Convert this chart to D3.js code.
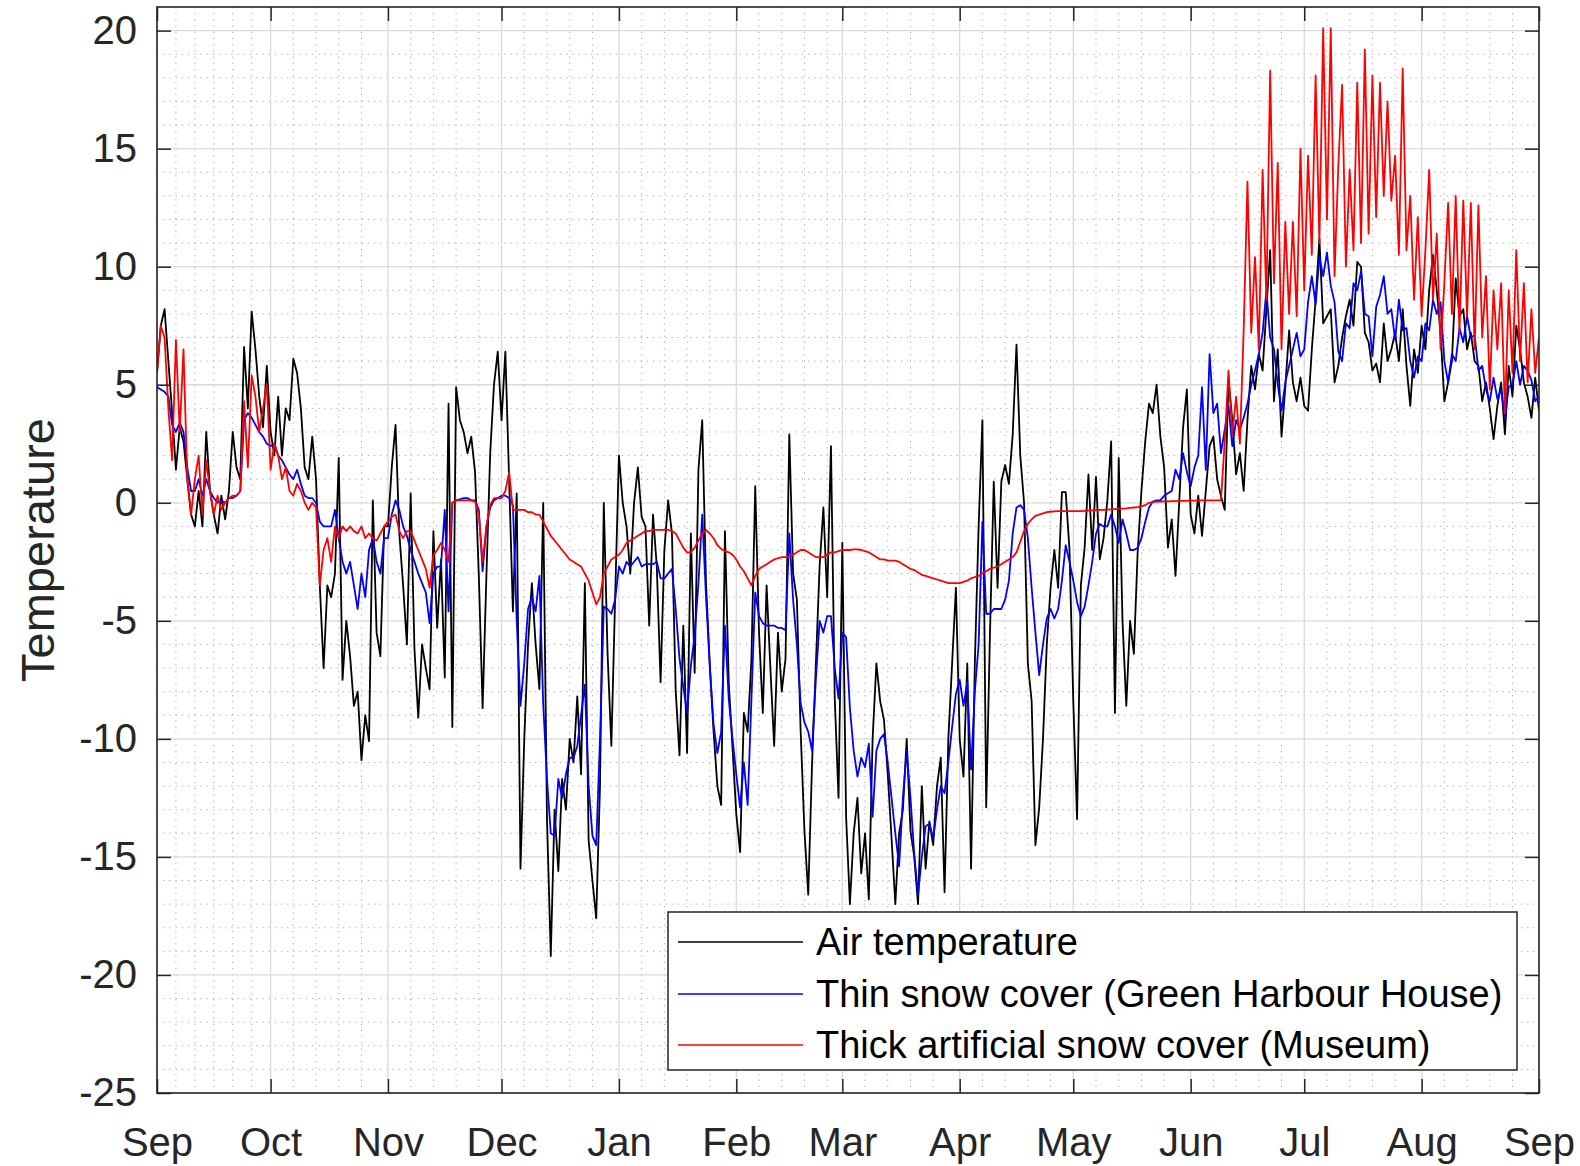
<!DOCTYPE html>
<html>
<head>
<meta charset="utf-8">
<script src="https://cdn.jsdelivr.net/npm/d3@7"></script>
<style>
  html, body { margin: 0; padding: 0; background: #ffffff; }
  svg { display: block; font-family: "Liberation Sans", Arial, Helvetica, sans-serif; }
</style>
</head>
<body>
<svg id="chart" width="1580" height="1166"></svg>
<script>
// Daily temperature series, one value per day starting 1 Sep 2016 (366 values, up to 1 Sep 2017)
const firstDay = [2016, 8, 1];
const xTickLabels = ["Sep", "Oct", "Nov", "Dec", "Jan", "Feb", "Mar", "Apr", "May", "Jun", "Jul", "Aug", "Sep"];
const yTicks = [-25, -20, -15, -10, -5, 0, 5, 10, 15, 20];
const yTickLabels = ["-25", "-20", "-15", "-10", "-5", "0", "5", "10", "15", "20"];
const yMin = -25, yMax = 21;
const yAxisTitle = "Temperature";
const seriesNames = [
  "Air temperature",
  "Thin snow cover (Green Harbour House)",
  "Thick artificial snow cover (Museum)"
];

const airTemperature = [
  5.5, 7.5, 8.2, 6.0, 3.8, 1.4, 3.2, 2.6, 1.0, -0.5,
  -1.0, 0.5, -1.0, 3.0, 0.5, -0.5, -1.3, 0.3, -0.7, 0.5,
  3.0, 1.5, 1.0, 6.6, 4.0, 8.1, 6.5, 4.5, 3.2, 5.8,
  3.0, 2.0, 4.5, 2.0, 4.0, 3.5, 6.1, 5.5, 4.0, 1.5,
  1.0, 2.8, 1.0, -3.5, -7.0, -3.5, -4.0, -3.0, 1.9, -7.5,
  -5.0, -6.5, -8.6, -8.0, -10.9, -9.0, -10.1, 0.1, -5.5, -6.5,
  -1.0, -1.0, 1.5, 3.3, -1.3, -3.5, -6.0, 0.4, -6.2, -9.1,
  -6.0, -7.0, -7.9, -1.2, -5.3, -2.4, -7.4, 4.2, -9.5, 4.9,
  3.5, 3.0, 2.1, 2.8, 1.3, -3.1, -8.7, -3.1, 2.1, 5.0,
  6.4, 3.5, 6.4, 1.0, -4.6, 0.4, -15.5, -10.0, -6.0, -3.4,
  -6.0, -7.9, 0.0, -13.4, -19.2, -13.0, -15.6, -11.7, -13.0, -10.0,
  -11.0, -8.2, -11.5, -3.4, -14.3, -16.0, -17.6, -12.0, 0.0, -6.4,
  -10.3, -4.0, 2.0, 0.0, -1.0, -3.0, 0.0, 1.5, -0.6, -1.0,
  -5.2, -0.5, -2.7, -7.6, -2.0, 0.1, -1.3, -8.0, -10.7, -5.2,
  -10.6, -1.3, -7.2, 1.4, 3.5, -3.4, -6.9, -9.7, -12.0, -12.8,
  -1.2, -7.6, -10.4, -13.2, -14.8, -8.9, -9.7, -6.6, 0.7, -5.5,
  -8.9, -3.5, -7.0, -10.3, -5.5, -8.0, -6.6, 2.9, -3.0, -4.1,
  -9.7, -13.9, -16.6, -11.1, -6.9, -2.7, -0.2, -4.0, 2.4, -8.3,
  -12.5, -1.7, -13.3, -17.0, -14.0, -12.5, -15.7, -14.0, -16.8, -10.0,
  -6.8, -8.4, -9.2, -11.5, -14.2, -17.0, -14.0, -13.0, -10.0, -13.9,
  -15.0, -17.0, -12.0, -15.5, -13.5, -14.5, -12.0, -10.8, -16.5, -10.0,
  -6.8, -3.6, -10.0, -11.6, -6.8, -15.5, -6.8, -1.0, 3.5, -12.9,
  -5.5, 0.9, -3.6, 0.9, 1.6, 0.8, 2.9, 6.7, 2.0, 0.0,
  -6.8, -8.4, -14.5, -12.9, -10.0, -6.0, -3.6, -2.0, -3.6, 0.45,
  0.45, -2.0, -8.4, -13.4, -3.5, -1.9, 1.2, -2.0, 1.1, -2.4,
  -1.5, 0.1, 2.6, -8.9, 1.9, -5.0, -8.6, -5.0, -6.4, -2.1,
  0.5, 2.6, 4.2, 3.8, 5.0, 2.8, 1.5, -1.9, -0.7, -3.1,
  0.1, 3.2, 4.8, -0.5, -1.3, 0.3, -1.4, 0.5, 2.4, 2.8,
  1.0, 0.3, -0.3, 5.2, 3.5, 1.2, 2.1, 0.5, 3.5, 5.8,
  4.8, 6.3, 5.6, 8.2, 10.7, 4.3, 6.5, 2.8, 4.9, 7.3,
  5.1, 4.3, 5.3, 4.1, 3.9, 6.5, 8.6, 11.2, 7.6, 7.9,
  8.2, 5.1, 5.8, 7.0, 7.9, 8.6, 7.5, 10.2, 10.0, 7.2,
  6.8, 5.6, 5.9, 5.1, 7.6, 6.0, 6.5, 7.2, 6.0, 8.2,
  5.8, 4.1, 6.5, 5.5, 7.5, 6.5, 9.0, 10.5, 9.0, 7.2,
  4.3, 5.1, 6.0, 9.5, 7.9, 8.2, 6.5, 7.2, 6.0, 5.8,
  4.3, 5.1, 4.0, 2.7, 4.1, 5.1, 2.9, 5.8, 4.5, 7.5,
  6.5, 5.1, 4.5, 3.6, 5.3, 3.9
];

const thinSnowCover = [
  4.9, 4.8, 4.7, 4.5, 3.3, 3.0, 3.4, 3.0, 1.5, 0.5,
  0.5, 1.0, 0.3, 1.0, 0.5, 0.2, 0.0, 0.1, 0.0, 0.2,
  0.2, 0.3, 0.5, 3.5, 3.8, 3.6, 3.3, 3.0, 2.8, 2.5,
  2.4, 2.5, 2.0, 1.8, 1.5, 1.2, 1.0, 1.4, 0.8, 0.3,
  0.2, 0.2, 0.0, -0.8, -1.0, -1.0, -1.0, -0.3, -1.5, -2.5,
  -3.0, -2.5, -3.5, -4.5, -3.0, -4.0, -2.0, -1.5, -2.5, -3.0,
  -1.5, -1.5, -0.5, 0.1, -0.3, -1.0, -1.4, -2.0, -2.5, -3.0,
  -3.4, -3.8, -5.1, -3.0, -2.7, -2.7, -0.3, -4.6, 0.0, 0.1,
  0.15, 0.2, 0.2, 0.1, 0.1, -0.3, -2.9, -1.0, -0.2, 0.1,
  0.2, 0.3, 0.3, 0.2, -0.1, -5.0, -8.6, -6.8, -4.5, -4.0,
  -4.6, -3.1, -8.5, -11.7, -14.0, -14.1, -11.7, -12.5, -11.5, -10.8,
  -10.8, -10.3, -9.0, -7.7, -12.0, -14.1, -14.5, -10.0, -4.4, -4.5,
  -4.7, -4.1, -2.7, -3.0, -2.5, -2.7, -2.5, -2.3, -2.7, -2.6,
  -2.6, -2.6, -2.5, -3.2, -3.2, -3.0, -2.8, -4.5, -6.6, -7.8,
  -8.9, -6.9, -5.6, -3.4, -0.5, -4.0, -6.9, -9.4, -10.6, -9.7,
  -5.2, -8.3, -10.0, -11.5, -12.9, -11.0, -12.8, -8.3, -3.8, -4.8,
  -5.1, -5.2, -5.2, -5.2, -5.3, -5.3, -5.4, -1.3, -4.1, -6.0,
  -8.5, -9.3, -9.7, -10.5, -7.5, -5.0, -5.5, -4.8, -4.8, -7.0,
  -8.3, -5.5, -5.7, -8.7, -10.5, -11.6, -10.8, -11.2, -10.2, -13.3,
  -10.5, -10.0, -9.8, -11.0, -12.5, -14.0, -15.4, -12.5, -10.5, -12.5,
  -14.9, -16.6, -15.0, -13.7, -13.6, -14.2, -13.0, -12.0, -12.3, -11.0,
  -9.5, -8.1, -7.5, -8.6, -7.6, -11.3, -8.0, -6.0, -0.8, -4.7,
  -4.7, -4.5, -4.5, -4.5, -4.1, -3.3, -1.3, -0.2, -0.1, -0.3,
  -1.5, -3.6, -5.5, -7.3, -6.0, -4.9, -4.5, -4.9, -4.5, -3.3,
  -1.8, -2.5, -3.3, -4.2, -4.8, -4.4, -3.5, -2.5, -1.3, -0.9,
  -1.0, -1.0, -0.5, -1.0, -1.7, -0.7, -1.3, -2.0, -2.0, -1.9,
  -1.5, -0.8, -0.2, 0.05, 0.1, 0.1, 0.3, 0.4, 0.5, 1.4,
  1.0, 2.1, 1.3, 0.7, 1.5, 2.0, 4.9, 1.4, 6.3, 3.8,
  4.2, 2.1, 3.1, 4.1, 2.4, 3.5, 3.1, 3.6, 4.2, 5.0,
  5.6, 6.3, 7.2, 9.0, 7.0, 6.5, 5.0, 3.9, 5.1, 5.8,
  6.5, 7.2, 6.2, 6.5, 8.5, 9.6, 8.4, 10.4, 9.6, 10.6,
  9.2, 8.5, 6.4, 6.0, 7.6, 7.4, 9.3, 9.0, 9.8, 8.0,
  7.9, 6.2, 8.3, 8.8, 9.6, 8.0, 8.2, 6.9, 8.6, 7.3,
  7.4, 6.0, 5.3, 6.2, 6.0, 7.6, 7.3, 8.6, 8.0, 8.5,
  6.0, 5.1, 6.3, 6.0, 7.4, 6.8, 7.9, 7.0, 7.1, 5.6,
  5.8, 4.8, 4.3, 5.3, 4.4, 4.8, 3.6, 4.9, 5.0, 6.0,
  5.0, 5.8, 5.6, 5.2, 4.3, 4.5
];

const thickSnowCover = [
  5.5, 7.5, 7.0, 4.0, 1.8, 6.9, 3.0, 6.5, 1.0, -0.5,
  1.0, 2.0, -0.5, 1.8, 0.5, -0.5, 0.3, -0.3, 0.0, 0.2,
  0.3, 0.3, 0.5, 4.3, 1.5, 5.4, 4.5, 3.0, 4.0, 5.0,
  1.4, 2.5, 2.0, 1.0, 1.5, 0.5, 0.3, 0.8, 0.5, 0.0,
  -0.3, 0.0, -0.2, -3.5, -2.0, -1.5, -2.5, -1.0, -1.5, -1.0,
  -1.2, -1.0, -1.2, -1.3, -1.0, -1.5, -1.3, -1.5, -1.6, -1.3,
  -1.0, -0.8, -0.6, -0.5, -1.2, -1.5, -1.2, -1.2, -1.6, -2.0,
  -2.4, -2.8, -3.6, -2.2, -2.0, -1.7, -2.0, -2.5, 0.0, 0.1,
  0.1, 0.1, 0.1, 0.1, 0.05, -0.5, -2.5, -1.0, -0.1, 0.2,
  0.2, 0.2, 0.5, 1.3, -0.3, -0.3, -0.3, -0.3, -0.4, -0.4,
  -0.5, -0.5, -0.8, -1.1, -1.4, -1.6, -1.8, -2.0, -2.2, -2.4,
  -2.5, -2.6, -2.7, -3.0, -3.3, -3.8, -4.3, -4.0, -3.0, -2.7,
  -2.4, -2.3, -2.2, -2.0, -1.7, -1.6, -1.5, -1.4, -1.3, -1.2,
  -1.2, -1.15, -1.15, -1.15, -1.15, -1.15, -1.2, -1.3, -1.6, -1.9,
  -2.1, -2.1, -1.9, -1.6, -1.3, -1.15, -1.3, -1.5, -1.8, -1.95,
  -2.05, -2.1, -2.2, -2.4, -2.7, -2.9, -3.2, -3.5, -3.1, -2.8,
  -2.7, -2.6, -2.5, -2.4, -2.35, -2.3, -2.3, -2.3, -2.2, -2.1,
  -2.0, -2.0, -2.1, -2.2, -2.3, -2.3, -2.3, -2.2, -2.1, -2.1,
  -2.05, -2.0, -2.0, -2.0, -1.97, -1.97, -2.0, -2.05, -2.1, -2.2,
  -2.3, -2.4, -2.4, -2.45, -2.45, -2.45, -2.5, -2.6, -2.7, -2.8,
  -2.85, -2.95, -3.05, -3.1, -3.15, -3.2, -3.25, -3.3, -3.35, -3.4,
  -3.4, -3.4, -3.4, -3.35, -3.3, -3.2, -3.15, -3.1, -3.0, -2.9,
  -2.8, -2.75, -2.7, -2.6, -2.5, -2.4, -2.3, -2.1, -1.65, -1.2,
  -0.9, -0.7, -0.55, -0.5, -0.45, -0.4, -0.38, -0.36, -0.35, -0.35,
  -0.35, -0.35, -0.35, -0.35, -0.35, -0.34, -0.33, -0.32, -0.31, -0.3,
  -0.3, -0.29, -0.28, -0.27, -0.26, -0.25, -0.24, -0.22, -0.2, -0.18,
  -0.15, -0.1, 0.0, 0.03, 0.05, 0.05, 0.06, 0.06, 0.07, 0.07,
  0.08, 0.08, 0.08, 0.09, 0.09, 0.1, 0.1, 0.1, 0.1, 0.1,
  0.1, 0.1, 2.6, 5.6, 2.9, 4.5, 2.5, 7.3, 13.6, 7.2,
  10.4, 6.5, 14.1, 8.6, 18.3, 9.3, 14.4, 6.5, 11.9, 8.0,
  11.9, 7.9, 15.0, 9.0, 14.7, 10.5, 18.1, 11.0, 20.1, 12.0,
  20.1, 9.6, 14.3, 17.7, 10.0, 14.1, 10.7, 17.8, 11.0, 19.2,
  11.4, 18.1, 12.1, 17.8, 13.0, 17.0, 12.8, 14.7, 10.5, 18.4,
  10.7, 13.0, 8.6, 12.1, 7.9, 10.7, 14.1, 8.6, 11.4, 6.5,
  9.3, 12.7, 8.0, 13.0, 7.2, 12.8, 7.9, 12.7, 6.5, 12.6,
  7.0, 9.6, 4.8, 9.0, 6.5, 9.3, 3.8, 9.0, 5.5, 10.7,
  6.0, 9.3, 5.1, 8.2, 5.5, 7.0
];

// ---- layout ----
const box = { left: 157, top: 7, right: 1539, bottom: 1093 };
const axisColor = "#262626";
const tickLen = 14;

const svg = d3.select("#chart");
const t0 = new Date(Date.UTC(firstDay[0], firstDay[1], firstDay[2]));
const dayDate = i => d3.utcDay.offset(t0, i);
const tEnd = dayDate(airTemperature.length - 1);

const x = d3.scaleUtc().domain([t0, tEnd]).range([box.left, box.right]);
const y = d3.scaleLinear().domain([yMin, yMax]).range([box.bottom, box.top]);

const monthTicks = d3.utcMonth.range(t0, d3.utcDay.offset(tEnd, 1));

// ---- grid ----
const grid = svg.append("g");

// minor horizontal grid (every degree)
const minorY = d3.range(yMin + 1, yMax + 1).filter(v => v % 5 !== 0);
grid.selectAll("line.minor-y").data(minorY).join("line")
  .attr("x1", box.left).attr("x2", box.right)
  .attr("y1", d => y(d)).attr("y2", d => y(d))
  .attr("stroke", "#a8a8a8").attr("stroke-width", 1)
  .attr("stroke-dasharray", "1.2 5");

// minor vertical grid (intra-month dates)
const minorX = [];
monthTicks.slice(0, -1).forEach((m, k) => {
  const days = k === 0 ? [6, 11, 16, 21, 26] : [7, 13, 19, 25];
  days.forEach(dd => minorX.push(new Date(Date.UTC(m.getUTCFullYear(), m.getUTCMonth(), dd))));
});
grid.selectAll("line.minor-x").data(minorX).join("line")
  .attr("x1", d => x(d)).attr("x2", d => x(d))
  .attr("y1", box.top).attr("y2", box.bottom)
  .attr("stroke", "#a8a8a8").attr("stroke-width", 1)
  .attr("stroke-dasharray", "1.2 5");

// major grid
grid.selectAll("line.major-y").data(yTicks).join("line")
  .attr("x1", box.left).attr("x2", box.right)
  .attr("y1", d => y(d)).attr("y2", d => y(d))
  .attr("stroke", "#dadada").attr("stroke-width", 1.3);
grid.selectAll("line.major-x").data(monthTicks).join("line")
  .attr("x1", d => x(d)).attr("x2", d => x(d))
  .attr("y1", box.top).attr("y2", box.bottom)
  .attr("stroke", "#dadada").attr("stroke-width", 1.3);

// ---- data lines ----
svg.append("defs").append("clipPath").attr("id", "plotClip")
  .append("rect").attr("x", box.left).attr("y", box.top)
  .attr("width", box.right - box.left).attr("height", box.bottom - box.top);

const line = d3.line().x((d, i) => x(dayDate(i))).y(d => y(d));
const series = [
  { values: airTemperature, color: "#000000" },
  { values: thinSnowCover, color: "#0000ff" },
  { values: thickSnowCover, color: "#ff0000" }
];
const plot = svg.append("g").attr("clip-path", "url(#plotClip)");
series.forEach(s => {
  plot.append("path").datum(s.values)
    .attr("d", line)
    .attr("fill", "none")
    .attr("stroke", s.color)
    .attr("stroke-width", 1.8)
    .attr("stroke-linejoin", "round");
});

// ---- axes ----
const styleAxis = g => {
  g.select(".domain").remove();
  g.selectAll(".tick line").attr("stroke", axisColor).attr("stroke-width", 1.5);
  g.selectAll(".tick text").attr("fill", axisColor).attr("font-size", 40)
    .attr("font-family", "'Liberation Sans', Arial, Helvetica, sans-serif");
};

svg.append("g").attr("transform", `translate(${box.left},0)`)
  .call(d3.axisLeft(y).tickValues(yTicks).tickSizeInner(-tickLen).tickSizeOuter(0).tickPadding(20)
    .tickFormat((d, i) => yTickLabels[i]))
  .call(styleAxis);

svg.append("g").attr("transform", `translate(${box.right},0)`)
  .call(d3.axisRight(y).tickValues(yTicks).tickSizeInner(-tickLen).tickSizeOuter(0).tickFormat(""))
  .call(styleAxis);

svg.append("g").attr("transform", `translate(0,${box.bottom})`)
  .call(d3.axisBottom(x).tickValues(monthTicks).tickSizeInner(-tickLen).tickSizeOuter(0)
    .tickPadding(35).tickFormat((d, i) => xTickLabels[i]))
  .call(styleAxis);

svg.append("g").attr("transform", `translate(0,${box.top})`)
  .call(d3.axisTop(x).tickValues(monthTicks).tickSizeInner(-tickLen).tickSizeOuter(0).tickFormat(""))
  .call(styleAxis);

// axes box
svg.append("rect")
  .attr("x", box.left).attr("y", box.top)
  .attr("width", box.right - box.left).attr("height", box.bottom - box.top)
  .attr("fill", "none").attr("stroke", axisColor).attr("stroke-width", 1.6);

// y axis title
svg.append("text")
  .attr("transform", `translate(54,${(box.top + box.bottom) / 2}) rotate(-90)`)
  .attr("text-anchor", "middle")
  .attr("font-size", 47)
  .attr("fill", axisColor)
  .text(yAxisTitle);

// ---- legend ----
const lg = { x: 668, y: 912, w: 849, h: 158 };
const legend = svg.append("g");
legend.append("rect")
  .attr("x", lg.x).attr("y", lg.y).attr("width", lg.w).attr("height", lg.h)
  .attr("fill", "#ffffff").attr("stroke", axisColor).attr("stroke-width", 1.5);
const rowY = [942, 994, 1045];
seriesNames.forEach((name, i) => {
  legend.append("line")
    .attr("x1", 678).attr("x2", 803)
    .attr("y1", rowY[i]).attr("y2", rowY[i])
    .attr("stroke", series[i].color).attr("stroke-width", 1.5);
  legend.append("text")
    .attr("x", 816).attr("y", rowY[i]).attr("dy", "0.35em")
    .attr("font-size", 38).attr("fill", "#000000")
    .text(name);
});
</script>
</body>
</html>
